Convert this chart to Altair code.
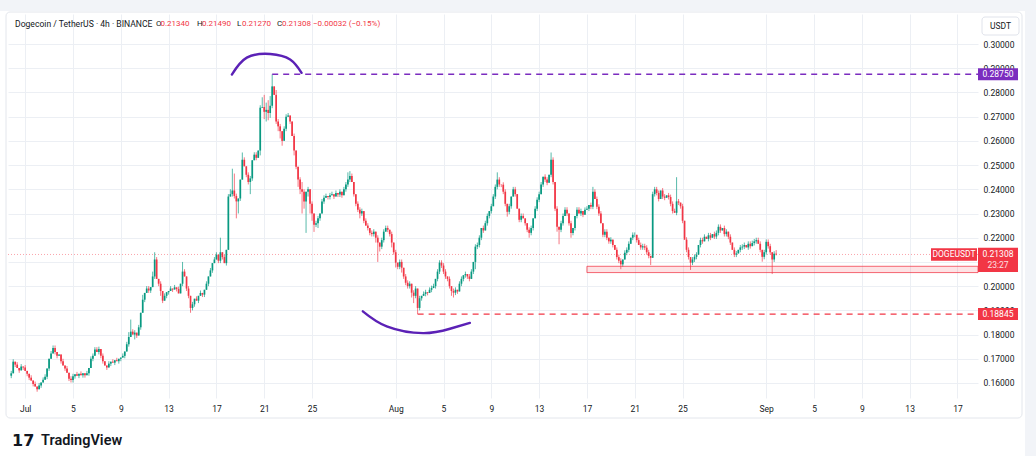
import altair as alt
import pandas as pd

# ---------------- DOGE/USDT 4h candles (Binance) ----------------
SYMBOL_LINE = "Dogecoin / TetherUS · 4h · BINANCE"
BAR_TIMER = "23:27"

first_time = "2025-06-29T20:00:00Z"
first_candle = {"open": 0.1630, "close": 0.1640, "up": 1, "down": 1}

# closes of the six 4h candles of each day (00, 04, 08, 12, 16, 20 UTC), from Jun 30 to Sep 1
days_start = "2025-06-30"
closes = [
    [0.1688, 0.1676, 0.1662, 0.1652, 0.1668, 0.1664],  # Jun 30
    [0.1650, 0.1638, 0.1622, 0.1610, 0.1596, 0.1585],  # Jul 1
    [0.1574, 0.1590, 0.1602, 0.1613, 0.1626, 0.1660],
    [0.1700, 0.1722, 0.1745, 0.1728, 0.1712, 0.1718],
    [0.1690, 0.1672, 0.1660, 0.1642, 0.1618, 0.1612],
    [0.1628, 0.1636, 0.1630, 0.1638, 0.1632, 0.1640],  # Jul 5
    [0.1632, 0.1640, 0.1662, 0.1700, 0.1712, 0.1738],
    [0.1728, 0.1740, 0.1712, 0.1690, 0.1672, 0.1664],
    [0.1680, 0.1688, 0.1684, 0.1694, 0.1690, 0.1700],
    [0.1705, 0.1712, 0.1730, 0.1760, 0.1790, 0.1812],  # Jul 9
    [0.1800, 0.1808, 0.1796, 0.1830, 0.1890, 0.1944],
    [0.1972, 0.1990, 0.1982, 0.1996, 0.2040, 0.2110],
    [0.2030, 0.2010, 0.1980, 0.1940, 0.1960, 0.1975],
    [0.1980, 0.1990, 0.1986, 0.1995, 0.1988, 0.1970],  # Jul 13
    [0.2010, 0.2060, 0.2040, 0.1990, 0.1960, 0.1910],
    [0.1925, 0.1948, 0.1940, 0.1960, 0.1972, 0.1965],
    [0.1985, 0.2010, 0.2040, 0.2065, 0.2095, 0.2110],
    [0.2130, 0.2105, 0.2140, 0.2120, 0.2095, 0.2150],  # Jul 17
    [0.2370, 0.2380, 0.2395, 0.2372, 0.2350, 0.2362],
    [0.2440, 0.2522, 0.2495, 0.2460, 0.2430, 0.2445],
    [0.2520, 0.2543, 0.2530, 0.2560, 0.2737, 0.2740],
    [0.2720, 0.2728, 0.2715, 0.2745, 0.2825, 0.2790],  # Jul 21
    [0.2680, 0.2660, 0.2640, 0.2600, 0.2650, 0.2700],
    [0.2705, 0.2680, 0.2620, 0.2560, 0.2493, 0.2440],
    [0.2400, 0.2390, 0.2350, 0.2390, 0.2400, 0.2340],
    [0.2300, 0.2254, 0.2260, 0.2280, 0.2300, 0.2350],  # Jul 25
    [0.2365, 0.2372, 0.2368, 0.2375, 0.2380, 0.2370],
    [0.2385, 0.2378, 0.2390, 0.2375, 0.2400, 0.2420],
    [0.2440, 0.2455, 0.2430, 0.2380, 0.2340, 0.2316],
    [0.2300, 0.2310, 0.2270, 0.2250, 0.2240, 0.2220],  # Jul 29
    [0.2215, 0.2225, 0.2200, 0.2180, 0.2163, 0.2190],
    [0.2225, 0.2240, 0.2233, 0.2215, 0.2180, 0.2140],
    [0.2097, 0.2080, 0.2100, 0.2076, 0.2040, 0.2014],  # Aug 1
    [0.2000, 0.2010, 0.1973, 0.1960, 0.1990, 0.1910],
    [0.1950, 0.1960, 0.1968, 0.1975, 0.1972, 0.1985],
    [0.1992, 0.2000, 0.2030, 0.2060, 0.2097, 0.2085],
    [0.2060, 0.2040, 0.2030, 0.2000, 0.1980, 0.1973],  # Aug 5
    [0.1985, 0.1978, 0.2010, 0.2030, 0.2045, 0.2050],
    [0.2040, 0.2030, 0.2060, 0.2100, 0.2163, 0.2170],
    [0.2200, 0.2240, 0.2230, 0.2260, 0.2290, 0.2310],
    [0.2330, 0.2370, 0.2410, 0.2440, 0.2420, 0.2419],  # Aug 9
    [0.2390, 0.2340, 0.2307, 0.2330, 0.2370, 0.2400],
    [0.2380, 0.2320, 0.2274, 0.2290, 0.2280, 0.2260],
    [0.2233, 0.2220, 0.2240, 0.2280, 0.2320, 0.2357],
    [0.2380, 0.2420, 0.2452, 0.2440, 0.2427, 0.2460],  # Aug 13
    [0.2522, 0.2430, 0.2320, 0.2245, 0.2233, 0.2260],
    [0.2290, 0.2316, 0.2300, 0.2260, 0.2220, 0.2240],
    [0.2290, 0.2316, 0.2300, 0.2310, 0.2295, 0.2315],
    [0.2320, 0.2335, 0.2328, 0.2390, 0.2360, 0.2328],  # Aug 17
    [0.2300, 0.2260, 0.2212, 0.2225, 0.2200, 0.2185],
    [0.2192, 0.2170, 0.2150, 0.2120, 0.2105, 0.2090],
    [0.2110, 0.2138, 0.2150, 0.2175, 0.2200, 0.2212],
    [0.2212, 0.2190, 0.2170, 0.2160, 0.2165, 0.2159],  # Aug 21
    [0.2140, 0.2125, 0.2117, 0.2380, 0.2400, 0.2385],
    [0.2360, 0.2395, 0.2370, 0.2365, 0.2375, 0.2368],
    [0.2340, 0.2310, 0.2303, 0.2350, 0.2345, 0.2330],
    [0.2270, 0.2192, 0.2150, 0.2120, 0.2097, 0.2110],  # Aug 25
    [0.2121, 0.2130, 0.2170, 0.2190, 0.2185, 0.2204],
    [0.2195, 0.2210, 0.2200, 0.2215, 0.2205, 0.2220],
    [0.2245, 0.2230, 0.2240, 0.2215, 0.2225, 0.2204],
    [0.2180, 0.2150, 0.2130, 0.2135, 0.2150, 0.2160],  # Aug 29
    [0.2163, 0.2170, 0.2160, 0.2175, 0.2165, 0.2178],
    [0.2185, 0.2190, 0.2175, 0.2150, 0.2121, 0.2140],
    [0.2183, 0.2165, 0.2140, 0.2110, 0.2134, 0.21308],  # Sep 1
]

# wick lengths beyond the body, in thousandths of a dollar
upper_wick = [
    [1, 0, 1, 0, 1, 0], [1, 0, 0, 1, 0, 1], [0, 1, 0, 1, 1, 0], [0, 1, 1, 1, 0, 0],
    [0, 1, 0, 1, 0, 1], [1, 0, 1, 0, 1, 0], [0, 1, 0, 1, 1, 1], [1, 1, 0, 1, 0, 0],
    [1, 0, 1, 0, 1, 0], [0, 1, 0, 1, 2, 5], [1, 1, 0, 1, 0, 2], [0, 1, 1, 0, 2, 3],
    [1, 0, 1, 0, 1, 0], [0, 1, 0, 1, 0, 1], [0, 4, 1, 0, 1, 0], [1, 0, 1, 0, 1, 0],
    [0, 1, 0, 1, 0, 1], [1, 0, 6, 0, 1, 0], [1, 2, 9, 7, 1, 0], [0, 3, 1, 0, 1, 1],
    [0, 1, 1, 0, 1, 4], [5, 3, 4, 4, 0, 0], [2, 1, 1, 0, 1, 1], [1, 0, 0, 1, 0, 0],
    [1, 3, 1, 0, 1, 0], [1, 0, 1, 1, 0, 1], [1, 1, 0, 1, 1, 0], [1, 0, 1, 0, 1, 1],
    [3, 2, 1, 0, 0, 1], [1, 1, 0, 1, 1, 0], [1, 1, 0, 1, 0, 1], [1, 1, 1, 0, 1, 0],
    [1, 0, 1, 1, 0, 1], [1, 1, 0, 1, 1, 0], [1, 0, 1, 1, 0, 1], [1, 1, 0, 1, 1, 1],
    [1, 1, 0, 1, 0, 1], [1, 0, 1, 1, 0, 1], [0, 1, 1, 0, 1, 1], [1, 0, 1, 1, 1, 0],
    [1, 1, 1, 3, 1, 0], [1, 1, 0, 1, 0, 1], [1, 0, 0, 1, 1, 0], [0, 1, 1, 0, 1, 1],
    [1, 1, 0, 1, 1, 0], [3, 1, 0, 1, 0, 1], [1, 1, 1, 0, 1, 0], [0, 1, 1, 1, 0, 1],
    [1, 0, 1, 2, 1, 1], [1, 1, 0, 1, 1, 0], [1, 0, 0, 1, 1, 1], [0, 1, 1, 1, 0, 1],
    [1, 0, 1, 1, 1, 1], [1, 1, 0, 1, 1, 1], [1, 0, 1, 1, 0, 1], [1, 1, 1, 10, 1, 0],
    [1, 0, 1, 1, 0, 1], [1, 1, 0, 1, 1, 1], [0, 1, 1, 0, 1, 1], [1, 1, 0, 1, 1, 0],
    [1, 0, 1, 1, 0, 1], [1, 1, 0, 1, 1, 1], [1, 1, 1, 1, 0, 1], [1, 1, 1, 0, 1, 0],
]
lower_wick = [
    [0, 1, 0, 1, 0, 1], [0, 1, 1, 0, 1, 0], [1, 0, 1, 0, 0, 1], [1, 0, 0, 1, 1, 0],
    [1, 0, 1, 0, 1, 1], [1, 1, 0, 1, 0, 1], [1, 0, 1, 0, 1, 0], [0, 1, 1, 1, 0, 1],
    [0, 1, 0, 1, 0, 1], [1, 0, 1, 0, 1, 0], [0, 2, 1, 0, 1, 0], [1, 0, 1, 1, 0, 1],
    [0, 1, 2, 1, 0, 1], [1, 0, 1, 0, 1, 0], [0, 1, 0, 1, 1, 2], [1, 1, 0, 1, 0, 1],
    [1, 0, 1, 0, 1, 0], [0, 1, 1, 1, 0, 1], [0, 0, 1, 1, 7, 5], [1, 0, 0, 1, 1, 5],
    [1, 0, 1, 0, 2, 0], [3, 4, 3, 2, 1, 0], [1, 2, 3, 2, 0, 1], [0, 1, 0, 2, 1, 3],
    [2, 9, 3, 13, 2, 4], [3, 3, 1, 2, 1, 0], [1, 0, 1, 1, 0, 1], [0, 1, 1, 1, 0, 1],
    [1, 1, 0, 1, 1, 1], [2, 1, 1, 0, 1, 1], [1, 1, 2, 8, 2, 1], [1, 0, 1, 1, 2, 1],
    [2, 1, 1, 2, 1, 1], [1, 1, 2, 3, 1, 0], [1, 1, 0, 1, 1, 0], [1, 0, 1, 1, 1, 1],
    [1, 1, 1, 1, 2, 2], [1, 1, 0, 1, 1, 1], [1, 1, 0, 1, 3, 1], [1, 1, 1, 0, 1, 1],
    [1, 0, 1, 1, 1, 1], [1, 1, 2, 1, 1, 0], [1, 0, 1, 1, 0, 1], [1, 2, 1, 1, 0, 1],
    [1, 0, 1, 1, 1, 0], [1, 1, 1, 2, 6, 1], [1, 0, 1, 1, 2, 1], [1, 1, 0, 1, 1, 0],
    [0, 1, 1, 1, 0, 1], [1, 0, 1, 1, 1, 1], [1, 1, 0, 1, 1, 2], [1, 0, 1, 1, 0, 1],
    [1, 1, 0, 1, 1, 1], [1, 1, 3, 0, 1, 1], [1, 0, 1, 1, 0, 1], [1, 1, 0, 1, 1, 1],
    [1, 0, 1, 1, 3, 1], [1, 1, 0, 1, 1, 0], [0, 1, 1, 0, 1, 1], [1, 1, 0, 1, 1, 1],
    [1, 0, 1, 1, 0, 1], [1, 1, 0, 1, 1, 0], [1, 1, 0, 1, 2, 1], [1, 1, 1, 6, 1, 0],
]
WICK_UNIT = 0.001

# exact highs / lows of marked candles
exact_extremes = {
    "2025-07-21T16:00:00Z": {"high": 0.2875},
    "2025-08-02T20:00:00Z": {"low": 0.18845},
    "2025-09-01T20:00:00Z": {"high": 0.2149, "low": 0.2127},
}

# horizontal levels and support zone
peak_level = {"start": "2025-07-21T16:00:00Z", "price": 0.2875}
low_level = {"start": "2025-08-02T20:00:00Z", "price": 0.18845}
support_zone = {"start": "2025-08-17T00:00:00Z", "low": 0.2056, "high": 0.2082}

# hand-drawn arcs above the top and below the bottom
top_arc_t = ["2025-07-18T07:00:00Z", "2025-07-19T13:00:00Z", "2025-07-21T12:00:00Z",
             "2025-07-23T04:00:00Z", "2025-07-24T03:00:00Z"]
top_arc_p = [0.2874, 0.2944, 0.2959, 0.2936, 0.2881]
bottom_arc_t = ["2025-07-29T06:00:00Z", "2025-07-31T06:00:00Z", "2025-08-03T07:00:00Z",
                "2025-08-05T13:00:00Z", "2025-08-07T05:00:00Z"]
bottom_arc_p = [0.1896, 0.1834, 0.1806, 0.1824, 0.1848]

# axes
x_start = (2025, 6, 29, 13, 30)
x_end = (2025, 9, 18, 17, 15)
x_end_iso = "2025-09-18T17:15:00Z"
x_start_iso = "2025-06-29T13:30:00Z"
tick_dates = [(7, 1), (7, 5), (7, 9), (7, 13), (7, 17), (7, 21), (7, 25),
              (8, 1), (8, 5), (8, 9), (8, 13), (8, 17), (8, 21), (8, 25),
              (9, 1), (9, 5), (9, 9), (9, 13), (9, 17)]
price_ticks = [0.16, 0.17, 0.18, 0.19, 0.20, 0.21, 0.22, 0.23, 0.24,
               0.25, 0.26, 0.27, 0.28, 0.29, 0.30]
y_domain = [0.1538, 0.3124]

# ---------------- styling ----------------
UP = "#089981"
DOWN = "#f23645"
PURPLE = "#7b2cbf"
ARC = "#5b21b6"
INK = "#131722"
GRID = "#eceff4"
FONT = "Roboto"
FS = 8.5
HFS = 8
W, H = 970, 384


def iso(ts):
    return ts.strftime("%Y-%m-%dT%H:%M:%SZ")


def make_row(t, o, c, up, dn):
    key = iso(t)
    hi = max(o, c) + up * WICK_UNIT
    lo = min(o, c) - dn * WICK_UNIT
    ex = exact_extremes.get(key, {})
    hi = ex.get("high", hi)
    lo = ex.get("low", lo)
    return {"t": key, "open": o, "close": c, "high": hi, "low": lo,
            "dir": "up" if c >= o else "down"}


rows = [make_row(pd.Timestamp(first_time), first_candle["open"], first_candle["close"],
                 first_candle["up"], first_candle["down"])]
prev = first_candle["close"]
day0 = pd.Timestamp(days_start, tz="UTC")
for d, (cl, ups, dns) in enumerate(zip(closes, upper_wick, lower_wick)):
    for k in range(6):
        t = day0 + pd.Timedelta(days=d, hours=4 * k)
        rows.append(make_row(t, prev, cl[k], ups[k], dns[k]))
        prev = cl[k]
candles = pd.DataFrame(rows)
last = rows[-1]

x_scale = alt.Scale(
    type="utc",
    domain=[alt.DateTime(year=x_start[0], month=x_start[1], date=x_start[2],
                         hours=x_start[3], minutes=x_start[4], utc=True),
            alt.DateTime(year=x_end[0], month=x_end[1], date=x_end[2],
                         hours=x_end[3], minutes=x_end[4], utc=True)],
)
y_scale = alt.Scale(domain=y_domain, zero=False, nice=False)
color_scale = alt.Scale(domain=["up", "down"], range=[UP, DOWN])

x_axis = alt.Axis(
    values=[alt.DateTime(year=2025, month=m, date=dd, utc=True) for m, dd in tick_dates],
    labelExpr="utcdate(datum.value) == 1 ? utcFormat(datum.value, '%b') : utcFormat(datum.value, '%-d')",
    title=None, grid=True, labelPadding=6, labelOverlap=False, labelFlush=False,
    labelBound=False, labelAngle=0,
)
y_axis = alt.Axis(values=price_ticks, format=".5f", orient="right", title=None,
                  grid=True, labelPadding=5, labelOverlap=False, labelFlush=False)


def X(field):
    return alt.X(field, scale=x_scale, axis=x_axis)


def Y(field):
    return alt.Y(field, scale=y_scale, axis=y_axis)


one = pd.DataFrame({"k": [0]})

# page chrome
top_strip = alt.Chart(one).mark_rect(color="#f2f4f8").encode(
    x=alt.value(-8), x2=alt.value(1028), y=alt.value(-14), y2=alt.value(-3))
right_strip = alt.Chart(one).mark_rect(color="#f2f4f8").encode(
    x=alt.value(1017), x2=alt.value(1028), y=alt.value(-14), y2=alt.value(442))
frame = alt.Chart(one).mark_rect(fillOpacity=0, stroke="#e3e6ec", strokeWidth=1, cornerRadius=4).encode(
    x=alt.value(-2), x2=alt.value(1014), y=alt.value(-2), y2=alt.value(404))

# support zone
zone_df = pd.DataFrame([{"t0": support_zone["start"], "t1": x_end_iso,
                         "lo": support_zone["low"], "hi": support_zone["high"]}])
zone = alt.Chart(zone_df).mark_rect(
    fill=DOWN, fillOpacity=0.14, stroke=DOWN, strokeOpacity=0.75, strokeWidth=1
).encode(x=X("t0:T"), x2="t1:T", y=Y("lo:Q"), y2="hi:Q")

# last price line
last_df = pd.DataFrame([{"t0": x_start_iso, "t1": x_end_iso, "price": last["close"]}])
last_line = alt.Chart(last_df).mark_rule(color=DOWN, opacity=0.45, strokeDash=[1, 2], strokeWidth=1).encode(
    x=X("t0:T"), x2="t1:T", y=Y("price:Q"))

# dashed levels
lv_df = pd.DataFrame([
    {"t0": peak_level["start"], "t1": x_end_iso, "price": peak_level["price"], "c": PURPLE},
    {"t0": low_level["start"], "t1": x_end_iso, "price": low_level["price"], "c": DOWN},
])
levels = alt.Chart(lv_df).mark_rule(strokeDash=[6, 5], strokeWidth=1.4).encode(
    x=X("t0:T"), x2="t1:T", y=Y("price:Q"), color=alt.Color("c:N", scale=None))

# candles
wicks = alt.Chart(candles).mark_rule(strokeWidth=0.8, opacity=0.85).encode(
    x=X("t:T"), y=Y("low:Q"), y2="high:Q",
    color=alt.Color("dir:N", scale=color_scale, legend=None),
)
bodies = alt.Chart(candles).mark_rule(strokeWidth=1.7, strokeCap="butt").encode(
    x=X("t:T"), y=Y("open:Q"), y2="close:Q",
    color=alt.Color("dir:N", scale=color_scale, legend=None),
)

# arcs
arc_df = pd.DataFrame(
    [{"arc": "top", "i": i, "t": t, "p": p} for i, (t, p) in enumerate(zip(top_arc_t, top_arc_p))]
    + [{"arc": "bottom", "i": i, "t": t, "p": p} for i, (t, p) in enumerate(zip(bottom_arc_t, bottom_arc_p))]
)
arcs = alt.Chart(arc_df).mark_line(color=ARC, strokeWidth=2.4, interpolate="natural", strokeCap="round").encode(
    x=X("t:T"), y=Y("p:Q"), detail="arc:N", order="i:Q")

# price tags on the scale
tag_df = pd.DataFrame([
    {"price": peak_level["price"], "label": f"{peak_level['price']:.5f}", "fill": PURPLE},
    {"price": low_level["price"], "label": f"{low_level['price']:.5f}", "fill": DOWN},
])
tag_box = alt.Chart(tag_df).mark_point(
    shape="M-1,-0.3H1V0.3H-1Z", filled=True, size=1600, opacity=1
).encode(x=alt.value(990), y=Y("price:Q"), color=alt.Color("fill:N", scale=None))
tag_text = alt.Chart(tag_df).mark_text(color="white", font=FONT, fontSize=FS, baseline="middle").encode(
    x=alt.value(990), y=Y("price:Q"), text="label:N")

cur_df = pd.DataFrame([{"price": last["close"], "label": f"{last['close']:.5f}",
                        "timer": BAR_TIMER, "name": "DOGEUSDT"}])
cur_box = alt.Chart(cur_df).mark_point(
    shape="M-1,-0.34H1V0.88H-1Z", filled=True, size=1600, opacity=1, color=DOWN
).encode(x=alt.value(990), y=Y("price:Q"))
cur_text = alt.Chart(cur_df).mark_text(color="white", font=FONT, fontSize=FS, baseline="middle").encode(
    x=alt.value(990), y=Y("price:Q"), text="label:N")
cur_timer = alt.Chart(cur_df).mark_text(color="white", font=FONT, fontSize=FS, baseline="middle",
                                        dy=11, opacity=0.85).encode(
    x=alt.value(990), y=Y("price:Q"), text="timer:N")
name_box = alt.Chart(cur_df).mark_point(
    shape="M-1,-0.27H1V0.27H-1Z", filled=True, size=2116, opacity=1, color=DOWN
).encode(x=alt.value(946), y=Y("price:Q"))
name_text = alt.Chart(cur_df).mark_text(color="white", font=FONT, fontSize=FS, baseline="middle").encode(
    x=alt.value(946), y=Y("price:Q"), text="name:N")

# currency box
usdt_box = alt.Chart(one).mark_rect(fill="white", stroke="#e0e3eb", cornerRadius=3).encode(
    x=alt.value(974), x2=alt.value(1011), y=alt.value(3), y2=alt.value(21))
usdt_text = alt.Chart(one).mark_text(text="USDT", font=FONT, fontSize=FS, color=INK,
                                     baseline="middle").encode(x=alt.value(992.5), y=alt.value(12))

# legend line with OHLC of the last bar
chg = last["close"] - last["open"]
header_parts = [
    (7, SYMBOL_LINE, INK, 8.6),
    (148, "O", INK, HFS), (152.5, f"{last['open']:.5f}", DOWN, HFS),
    (189, "H", INK, HFS), (194, f"{last['high']:.5f}", DOWN, HFS),
    (229, "L", INK, HFS), (234, f"{last['low']:.5f}", DOWN, HFS),
    (269, "C", INK, HFS), (274, f"{last['close']:.5f}", DOWN, HFS),
    (305, f"{chg:+.5f} ({chg / last['open'] * 100:+.2f}%)".replace("-", "\u2212"), DOWN, HFS),
]
header = [
    alt.Chart(one).mark_text(text=txt, font=FONT, fontSize=fs, color=col, align="left",
                             baseline="middle").encode(x=alt.value(x), y=alt.value(10))
    for x, txt, col, fs in header_parts
]

# brand
logo_mark = alt.Chart(one).mark_text(text="17", font="DejaVu Sans", fontSize=16, fontWeight=900,
                                     color=INK, align="left", baseline="middle").encode(
    x=alt.value(4), y=alt.value(427))
logo_text = alt.Chart(one).mark_text(text="TradingView", font=FONT, fontSize=14.5, fontWeight=600,
                                     color=INK, align="left", baseline="middle").encode(
    x=alt.value(33), y=alt.value(427))

chart = alt.layer(
    top_strip, right_strip, frame,
    wicks, zone, last_line, levels, bodies, arcs,
    tag_box, tag_text, cur_box, cur_text, cur_timer, name_box, name_text,
    usdt_box, usdt_text, *header, logo_mark, logo_text,
).properties(
    width=W, height=H,
    autosize=alt.AutoSizeParams(type="none"),
    padding={"left": 8, "top": 14, "right": 58, "bottom": 58},
    background="white",
).configure_view(stroke=None).configure_axis(
    domain=False, ticks=False, gridColor=GRID, gridWidth=1,
    labelFont=FONT, labelFontSize=FS, labelColor=INK,
)

chart.save("out.html", embed_options={"renderer": "svg", "actions": False})
